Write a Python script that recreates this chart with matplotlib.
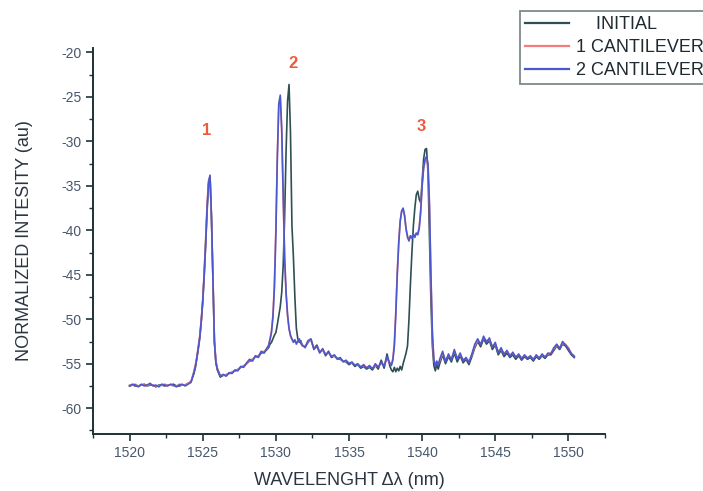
import matplotlib
matplotlib.use("Agg")
import matplotlib.pyplot as plt
from matplotlib.ticker import MultipleLocator

plt.rcParams['font.family'] = ['Liberation Sans', 'DejaVu Sans']
plt.rcParams['axes.unicode_minus'] = False

# ---------------- data ----------------
wavelength = [
    1520.0, 1520.2, 1520.4, 1520.6, 1520.8, 1521.0, 1521.2, 1521.4, 1521.6, 1521.8, 1522.0, 1522.2,
    1522.4, 1522.6, 1522.8, 1523.0, 1523.2, 1523.4, 1523.6, 1523.8, 1524.0, 1524.2, 1524.4,
    1524.5, 1524.6, 1524.7, 1524.8, 1524.9, 1525.0, 1525.1, 1525.2, 1525.3, 1525.4, 1525.5, 1525.6,
    1525.7, 1525.8, 1525.9, 1526.0,
    1526.2, 1526.4, 1526.6, 1526.8, 1527.0, 1527.2, 1527.4, 1527.6, 1527.8, 1528.0, 1528.2, 1528.4,
    1528.6, 1528.8, 1529.0, 1529.2, 1529.4,
    1529.5, 1529.6, 1529.7, 1529.8, 1529.9, 1530.0, 1530.1, 1530.2, 1530.3, 1530.4, 1530.5, 1530.6,
    1530.7, 1530.8, 1530.9, 1531.0, 1531.1, 1531.2, 1531.3, 1531.4, 1531.5, 1531.6, 1531.7, 1531.8,
    1532.0, 1532.2, 1532.4, 1532.6, 1532.8, 1533.0, 1533.2, 1533.4, 1533.6, 1533.8, 1534.0, 1534.2,
    1534.4, 1534.6, 1534.8, 1535.0, 1535.2, 1535.4, 1535.6, 1535.8, 1536.0, 1536.2, 1536.4, 1536.6,
    1536.8, 1537.0, 1537.2, 1537.4, 1537.6, 1537.8,
    1537.9, 1538.0, 1538.1, 1538.2, 1538.3, 1538.4, 1538.5, 1538.6, 1538.7, 1538.8, 1538.9, 1539.0,
    1539.1, 1539.2, 1539.3, 1539.4, 1539.5, 1539.6, 1539.7, 1539.8, 1539.9, 1540.0, 1540.1, 1540.2,
    1540.3, 1540.4, 1540.5, 1540.6, 1540.7, 1540.8, 1540.9, 1541.0, 1541.1, 1541.2,
    1541.4, 1541.6, 1541.8, 1542.0, 1542.2, 1542.4, 1542.6, 1542.8, 1543.0, 1543.2, 1543.4, 1543.6,
    1543.8, 1544.0, 1544.2, 1544.4, 1544.6, 1544.8, 1545.0, 1545.2, 1545.4, 1545.6, 1545.8, 1546.0,
    1546.2, 1546.4, 1546.6, 1546.8, 1547.0, 1547.2, 1547.4, 1547.6, 1547.8, 1548.0, 1548.2, 1548.4,
    1548.6, 1548.8, 1549.0, 1549.2, 1549.4, 1549.6, 1549.8, 1550.0, 1550.2, 1550.4,
]

initial = [
    -57.5, -57.4, -57.5, -57.5, -57.4, -57.3, -57.5, -57.4, -57.4, -57.6, -57.4, -57.4,
    -57.5, -57.4, -57.4, -57.3, -57.5, -57.5, -57.4, -57.4, -57.2, -57.0, -56.1,
    -55.4, -54.4, -53.3, -52.1, -50.3, -48.1, -45.2, -41.7, -37.8, -34.8, -34.0, -38.6,
    -45.6, -52.6, -54.9, -55.7,
    -56.5, -56.3, -56.3, -56.1, -56.0, -55.8, -55.7, -55.4, -55.3, -55.0, -54.7, -54.6,
    -54.2, -54.2, -53.8, -53.7, -53.4,
    -53.2, -52.8, -52.6, -52.2, -51.8, -51.5, -50.6, -49.6, -48.6, -47.0, -44.0, -38.5,
    -31.0, -25.5, -23.6, -29.0, -39.5, -43.0, -47.5, -51.0, -52.2, -52.6, -52.4, -52.9,
    -53.1, -52.6, -52.3, -53.3, -52.9, -53.7, -53.4, -54.1, -53.6, -54.3, -54.1, -54.4,
    -54.5, -54.7, -54.8, -55.1, -54.9, -55.3, -55.1, -55.5, -55.3, -55.6, -55.4, -55.7,
    -55.2, -55.6, -54.6, -55.5, -53.9, -55.3,
    -55.7, -55.9, -55.4, -55.9, -55.5, -55.8, -55.3, -55.7, -55.0, -54.4, -53.8, -53.0,
    -50.0, -46.0, -42.5, -39.5, -37.5, -36.0, -35.6, -36.5, -36.9, -34.5, -32.0, -30.9,
    -30.8, -33.5, -40.5, -48.0, -53.0, -55.2, -55.8, -55.1, -55.6, -55.0,
    -54.0, -55.0, -54.2, -54.8, -53.8, -54.8, -54.1, -54.9, -54.5, -55.1, -54.2, -53.2,
    -52.5, -53.1, -52.2, -52.8, -52.4, -53.4, -52.9, -54.0, -53.5, -54.2, -53.8, -54.3,
    -54.0, -54.5, -54.1, -54.6, -54.2, -54.5, -54.3, -54.7, -54.2, -54.5, -54.1, -54.4,
    -54.0, -54.0, -53.5, -53.0, -53.4, -52.8, -53.0, -53.5, -54.0, -54.3,
]

one_cantilever = [
    -57.4, -57.4, -57.3, -57.5, -57.4, -57.4, -57.5, -57.3, -57.4, -57.5, -57.5, -57.4,
    -57.3, -57.4, -57.4, -57.5, -57.5, -57.3, -57.4, -57.4, -57.2, -57.0, -55.8,
    -55.1, -54.2, -53.0, -51.8, -50.0, -47.8, -44.6, -41.0, -37.0, -34.4, -33.9, -38.8,
    -45.8, -52.3, -54.6, -55.5,
    -56.3, -56.3, -56.2, -56.1, -55.9, -55.8, -55.6, -55.4, -55.2, -55.0, -54.6, -54.5,
    -54.2, -54.1, -53.7, -53.6, -53.3,
    -52.9, -52.2, -51.3, -49.5, -46.0, -39.8, -31.5, -25.9, -25.1, -28.9, -36.4, -43.3,
    -47.2, -49.6, -51.1, -51.9, -52.3, -52.4, -52.5, -52.6, -52.4, -52.4, -52.6, -53.0,
    -53.0, -52.5, -52.4, -53.2, -53.1, -53.6, -53.5, -53.9, -53.8, -54.1, -54.2, -54.4,
    -54.4, -54.7, -54.7, -54.9, -54.9, -55.1, -55.1, -55.3, -55.2, -55.4, -55.3, -55.5,
    -55.2, -55.3, -55.0, -55.1, -54.5, -54.9,
    -55.0, -54.4, -52.6, -49.0, -44.6, -41.2, -38.9, -37.9, -37.7, -38.5, -39.9, -40.6,
    -41.0, -40.7, -40.7, -40.6, -40.6, -40.4, -40.4, -39.6, -37.7, -34.8, -33.0, -32.2,
    -32.0, -32.8, -37.4, -45.4, -51.8, -54.6, -55.1, -54.9, -55.0, -54.7,
    -53.8, -54.6, -54.1, -54.4, -53.6, -54.3, -54.0, -54.5, -54.4, -54.7, -54.0, -53.0,
    -52.4, -52.7, -52.1, -52.4, -52.3, -53.0, -52.8, -53.6, -53.4, -53.8, -53.6, -54.0,
    -53.8, -54.2, -54.0, -54.3, -54.1, -54.3, -54.2, -54.4, -54.1, -54.3, -54.0, -54.2,
    -53.9, -53.8, -53.3, -52.9, -53.2, -52.7, -52.8, -53.2, -53.8, -54.1,
]

two_cantilever = [
    -57.5, -57.3, -57.4, -57.6, -57.3, -57.5, -57.4, -57.2, -57.5, -57.4, -57.6, -57.3,
    -57.4, -57.5, -57.3, -57.4, -57.6, -57.4, -57.3, -57.5, -57.3, -57.1, -56.0,
    -55.3, -54.3, -53.2, -52.0, -50.2, -48.0, -45.0, -41.5, -37.5, -34.6, -33.8, -38.5,
    -45.5, -52.5, -54.8, -55.6,
    -56.4, -56.2, -56.4, -56.0, -56.1, -55.7, -55.8, -55.3, -55.4, -54.9, -54.5, -54.7,
    -54.1, -54.3, -53.6, -53.8, -53.2,
    -53.0, -52.3, -51.5, -49.8, -46.5, -40.5, -32.0, -25.8, -24.8, -28.5, -36.0, -43.0,
    -47.0, -49.5, -51.0, -51.8, -52.2, -52.6, -52.3, -52.8, -52.5, -52.2, -52.7, -52.9,
    -53.2, -52.4, -52.2, -53.4, -53.0, -53.8, -53.3, -54.0, -53.7, -54.2, -54.0, -54.5,
    -54.3, -54.8, -54.6, -55.0, -54.8, -55.2, -55.0, -55.4, -55.1, -55.5, -55.2, -55.6,
    -55.0, -55.4, -54.8, -55.3, -54.2, -55.0,
    -55.2, -54.6, -53.0, -49.5, -45.0, -41.5, -39.0, -37.8, -37.5, -38.3, -39.8, -40.8,
    -41.2, -40.6, -40.9, -40.4, -40.8, -40.3, -40.5, -39.8, -38.0, -35.0, -33.0, -32.0,
    -31.7, -32.5, -37.0, -45.0, -51.5, -54.5, -55.3, -54.7, -55.2, -54.5,
    -53.6, -54.8, -53.9, -54.6, -53.4, -54.5, -53.8, -54.7, -54.3, -54.9, -53.9, -52.8,
    -52.2, -52.9, -51.9, -52.6, -52.1, -53.2, -52.6, -53.8, -53.2, -54.0, -53.5, -54.2,
    -53.7, -54.3, -53.9, -54.5, -54.0, -54.4, -54.1, -54.6, -54.0, -54.4, -53.9, -54.3,
    -53.8, -53.9, -53.2, -52.8, -53.3, -52.5, -52.9, -53.3, -53.9, -54.2,
]

series_labels = ["    INITIAL", "1 CANTILEVER", "2 CANTILEVER"]
peak_labels = ["1", "2", "3"]
peak_label_x = [1525.25, 1531.15, 1539.95]
peak_label_y = [-28.8, -21.2, -28.3]

x_ticks = [1520, 1525, 1530, 1535, 1540, 1545, 1550]
y_ticks = [-20, -25, -30, -35, -40, -45, -50, -55, -60]

# ---------------- figure ----------------
fig = plt.figure(figsize=(7.03, 4.91), dpi=100)
ax = fig.add_axes([93 / 703, 57 / 491, 512 / 703, 386 / 491])

c_init = '#2f4f52'
c_one = '#f47c7c'
c_two = '#4a58d0'

l1, = ax.plot(wavelength, initial, color=c_init, lw=1.2, label=series_labels[0])
l2, = ax.plot(wavelength, one_cantilever, color=c_one, lw=1.2, label=series_labels[1])
l3, = ax.plot(wavelength, two_cantilever, color=c_two, lw=1.2, label=series_labels[2])

for t, px, py in zip(peak_labels, peak_label_x, peak_label_y):
    ax.text(px, py, t, color='#f05a3c', fontsize=12, fontweight='bold',
            ha='center', va='center')

ax.set_xlim(1517.5, 1552.5)
ax.set_ylim(-62.9, -19.5)
ax.set_xticks(x_ticks)
ax.set_yticks(y_ticks)
ax.xaxis.set_minor_locator(MultipleLocator(2.5))
ax.yaxis.set_minor_locator(MultipleLocator(2.5))

spine_c = '#1d3236'
for s in ['top', 'right']:
    ax.spines[s].set_visible(False)
for s in ['left', 'bottom']:
    ax.spines[s].set_color(spine_c)
    ax.spines[s].set_linewidth(1.4)

tick_c = '#46566c'
ax.tick_params(which='major', direction='out', length=5, width=1.2, color=spine_c,
               labelsize=10, labelcolor=tick_c, pad=3.5)
ax.tick_params(which='minor', direction='out', length=3, width=1.0, color=spine_c)

lab_c = '#2b3542'
ax.set_xlabel('WAVELENGHT Δλ (nm)', fontsize=13, color=lab_c)
ax.set_ylabel('NORMALIZED INTESITY (au)', fontsize=13, color=lab_c)
ax.xaxis.set_label_coords(0.5, -(472 - 434) / 386)
ax.yaxis.set_label_coords(-(93 - 33) / 512, 0.5)

leg = fig.legend(handles=[l1, l2, l3], loc='upper left',
                 bbox_to_anchor=(520 / 703, 1 - 11 / 491), bbox_transform=fig.transFigure,
                 fontsize=13, frameon=True, fancybox=False, borderpad=0.3,
                 labelspacing=0.32, handlelength=2.4, handletextpad=0.4,
                 borderaxespad=0)
leg.get_frame().set_edgecolor('#7d8a8c')
leg.get_frame().set_linewidth(1.3)
leg.get_frame().set_alpha(1)
for t in leg.get_texts():
    t.set_color('#1e2a30')
for h in leg.get_lines():
    h.set_linewidth(1.6)

fig.savefig('out.png', dpi=100)
